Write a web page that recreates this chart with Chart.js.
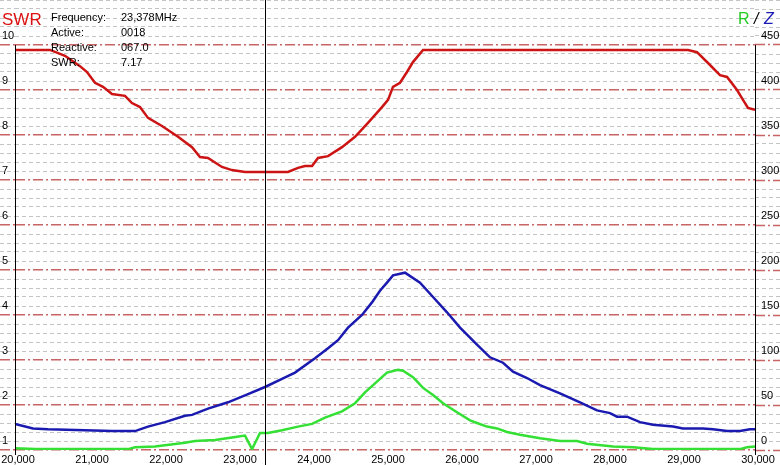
<!DOCTYPE html>
<html>
<head>
<meta charset="utf-8">
<script src="https://cdn.jsdelivr.net/npm/chart.js@4.4.1/dist/chart.umd.min.js"></script>
<style>
    html, body { margin: 0; padding: 0; background: #fff; }
    #wrap { width: 780px; height: 465px; }
</style>
</head>
<body>
<div id="wrap"><canvas id="myChart" width="780" height="465"></canvas></div>
<script>
// SWR (left axis)
const swrFreq = [20000, 20473, 20676, 20878, 20973, 21081, 21189, 21311, 21486, 21581, 21689, 21797, 21986, 22203, 22392, 22500, 22608, 22797, 22932, 23108, 23689, 23824, 23919, 24014, 24095, 24230, 24419, 24595, 24770, 24959, 25041, 25108, 25203, 25297, 25378, 25514, 29095, 29216, 29365, 29527, 29622, 29757, 29838, 29905, 30000];
const swrValues = [9.89, 9.89, 9.76, 9.53, 9.40, 9.16, 9.07, 8.91, 8.87, 8.71, 8.62, 8.38, 8.20, 7.96, 7.73, 7.51, 7.49, 7.29, 7.22, 7.18, 7.18, 7.27, 7.31, 7.31, 7.49, 7.53, 7.73, 7.96, 8.27, 8.62, 8.78, 9.07, 9.16, 9.40, 9.62, 9.89, 9.89, 9.84, 9.60, 9.33, 9.29, 9.00, 8.78, 8.60, 8.56];

// |Z| (blue, right axis)
const zFreq = [20000, 20243, 20446, 20946, 21311, 21622, 21797, 22027, 22297, 22392, 22608, 22878, 23149, 23378, 23608, 23784, 24054, 24230, 24365, 24500, 24689, 24824, 24932, 25027, 25108, 25270, 25473, 25649, 25838, 26014, 26243, 26419, 26595, 26730, 26919, 27095, 27365, 27635, 27865, 28041, 28135, 28270, 28446, 28622, 28892, 29027, 29297, 29432, 29622, 29797, 29932, 30000];
const zValues = [29, 24, 23, 22, 21, 21, 26, 31, 38, 39, 46, 53, 62, 70, 79, 86, 102, 113, 122, 136, 150, 164, 177, 186, 194, 197, 186, 170, 153, 136, 117, 103, 97, 87, 80, 72, 63, 53, 44, 41, 37, 37, 31, 28, 26, 24, 24, 23, 21, 21, 23, 23];

// R (green, right axis)
const rFreq = [20000, 20270, 21527, 21622, 21892, 22297, 22432, 22703, 22932, 23108, 23203, 23311, 23419, 23608, 23824, 24014, 24189, 24419, 24595, 24730, 24865, 25027, 25176, 25243, 25378, 25514, 25649, 25784, 25973, 26149, 26243, 26378, 26514, 26649, 26824, 27095, 27365, 27595, 27730, 28081, 28351, 28622, 29797, 29892, 30000];
const rValues = [2, 1, 1, 3, 4, 8, 10, 11, 14, 16, 1, 19, 19, 22, 26, 29, 36, 43, 52, 64, 74, 86, 89, 88, 81, 69, 61, 52, 42, 33, 30, 26, 24, 20, 17, 13, 10, 10, 7, 4, 3, 1, 1, 3, 4];

const cursorFreq = 23378;
const infoLabels = ['Frequency:', 'Active:', 'Reactive:', 'SWR:'];
const infoValues = ['23,378MHz', '0018', '067.0', '7.17'];

const redGrid = '#c86464';
const grayGrid = '#c4c4c4';

function isMajorSwr(v) {
    return Math.abs(v - Math.round(v)) < 1e-6 && v <= 10.001;
}
function isMajorRZ(v) {
    return Math.round(v) % 50 === 0 && v <= 450;
}

function toPoints(xs, ys) {
    return xs.map((x, i) => ({ x: x, y: ys[i] }));
}

const overlay = {
    id: 'overlay',
    afterDatasetsDraw(chart) {
        const c = chart.ctx;
        const xs = chart.scales.x;
        const yl = chart.scales.ySwr;
        c.save();
        c.strokeStyle = '#000';
        c.lineWidth = 1;
        [20000, 30000].forEach(f => {
            const px = Math.round(xs.getPixelForValue(f)) + 0.5;
            c.beginPath();
            c.moveTo(px, yl.getPixelForValue(10));
            c.lineTo(px, yl.getPixelForValue(1) + 5);
            c.stroke();
        });
        const cx = Math.round(xs.getPixelForValue(cursorFreq)) + 0.5;
        c.beginPath();
        c.moveTo(cx, 0);
        c.lineTo(cx, chart.height);
        c.stroke();

        c.textBaseline = 'alphabetic';
        c.textAlign = 'left';
        c.fillStyle = '#dd1111';
        c.font = '17px "Liberation Sans", Arial, sans-serif';
        c.fillText('SWR', 2, 25);

        c.fillStyle = '#000';
        c.font = '11px "Liberation Sans", Arial, sans-serif';
        infoLabels.forEach((t, i) => {
            c.fillText(t, 51, 21 + i * 15);
            c.fillText(infoValues[i], 121, 21 + i * 15);
        });

        c.font = '16px "Liberation Sans", Arial, sans-serif';
        c.fillStyle = '#22cc22';
        c.fillText('R', 738, 24);
        c.font = 'italic 16px "Liberation Sans", Arial, sans-serif';
        c.fillStyle = '#000';
        c.fillText('/', 754, 24);
        c.fillStyle = '#1a1ab4';
        c.fillText('Z', 764, 24);
        c.restore();
    }
};

const ctx = document.getElementById('myChart').getContext('2d');
const chart = new Chart(ctx, {
    type: 'line',
    data: {
        datasets: [
            {
                label: 'SWR',
                data: toPoints(swrFreq, swrValues),
                yAxisID: 'ySwr',
                borderColor: '#cc1414',
                borderWidth: 2.5,
                pointRadius: 0,
                tension: 0
            },
            {
                label: 'Z',
                data: toPoints(zFreq, zValues),
                yAxisID: 'yRZ',
                borderColor: '#1a1ab0',
                borderWidth: 2.5,
                pointRadius: 0,
                tension: 0
            },
            {
                label: 'R',
                data: toPoints(rFreq, rValues),
                yAxisID: 'yRZ',
                borderColor: '#33e033',
                borderWidth: 2.5,
                pointRadius: 0,
                tension: 0
            }
        ]
    },
    options: {
        responsive: false,
        animation: false,
        devicePixelRatio: 1,
        layout: { padding: { left: 2, right: 0, top: 0, bottom: 0 } },
        plugins: {
            legend: { display: false },
            tooltip: { enabled: false },
            title: { display: false }
        },
        scales: {
            x: {
                type: 'linear',
                min: 20000,
                max: 30000,
                grid: { display: false, drawTicks: false },
                border: { display: false },
                ticks: {
                    stepSize: 1000,
                    autoSkip: false,
                    maxRotation: 0,
                    padding: 3,
                    labelOffset: 3,
                    color: '#000',
                    font: { family: '"Liberation Sans", Arial, sans-serif', size: 11 },
                    callback: v => (v / 1000) + ',000'
                },
                afterFit: s => { s.height = 15; s.paddingLeft = 0; s.paddingRight = 0; }
            },
            ySwr: {
                type: 'linear',
                position: 'left',
                min: 1,
                max: 11,
                border: {
                    display: false,
                    dash: c => isMajorSwr(c.tick.value) ? [10, 3, 2, 3] : [4, 3]
                },
                grid: {
                    drawTicks: true,
                    tickLength: 15,
                    color: c => isMajorSwr(c.tick.value) ? redGrid : grayGrid,
                    lineWidth: c => isMajorSwr(c.tick.value) ? 1.5 : 1,
                    tickColor: c => isMajorSwr(c.tick.value) ? redGrid : grayGrid,
                    tickWidth: c => isMajorSwr(c.tick.value) ? 1.5 : 1,
                    tickBorderDash: c => isMajorSwr(c.tick.value) ? [10, 3, 2, 3] : [4, 3]
                },
                ticks: {
                    stepSize: 0.2,
                    autoSkip: false,
                    crossAlign: 'far',
                    labelOffset: -9,
                    color: '#000',
                    font: { family: '"Liberation Sans", Arial, sans-serif', size: 11 },
                    callback: v => isMajorSwr(v) ? String(Math.round(v)) : ''
                },
                afterFit: s => { s.width = 13; s.paddingTop = 0; s.paddingBottom = 0; }
            },
            yRZ: {
                type: 'linear',
                position: 'right',
                min: 0,
                max: 500,
                border: { display: false },
                grid: {
                    drawOnChartArea: false,
                    drawTicks: true,
                    tickLength: 25,
                    tickColor: c => isMajorRZ(c.tick.value) ? redGrid : grayGrid,
                    tickWidth: c => isMajorRZ(c.tick.value) ? 1.5 : 1,
                    tickBorderDash: c => isMajorRZ(c.tick.value) ? [10, 3, 2, 3] : [4, 3]
                },
                ticks: {
                    stepSize: 10,
                    autoSkip: false,
                    crossAlign: 'near',
                    padding: -19,
                    labelOffset: -9,
                    color: '#000',
                    font: { family: '"Liberation Sans", Arial, sans-serif', size: 11 },
                    callback: v => isMajorRZ(v) ? String(v) : ''
                },
                afterFit: s => { s.width = 25; s.paddingTop = 0; s.paddingBottom = 0; }
            }
        }
    },
    plugins: [overlay]
});
</script>
</body>
</html>
